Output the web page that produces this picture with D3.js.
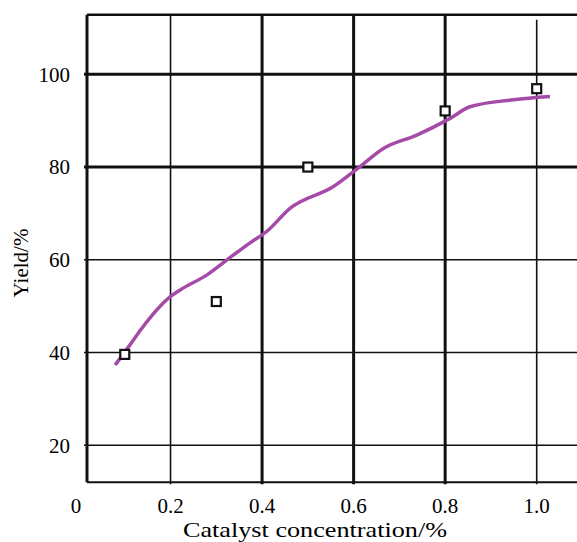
<!DOCTYPE html>
<html>
<head>
<meta charset="utf-8">
<script src="https://cdn.jsdelivr.net/npm/d3@7"></script>
<style>
  body { margin: 0; background: #fff; }
  svg { display: block; }
</style>
</head>
<body>
<div id="chart"></div>
<script>
// measured points (open squares)
const pointX = [0.1, 0.3, 0.5, 0.8, 1.0];
const pointY = [39.6, 51.0, 80.0, 92.1, 96.9];

// fitted curve
const curveX = [0.079, 0.111, 0.137, 0.199, 0.221, 0.279, 0.337, 0.373, 0.410, 0.461, 0.556, 0.614, 0.665, 0.738, 0.811, 0.854, 0.949, 1.029];
const curveY = [37.3, 41.6, 45.2, 52.0, 53.5, 56.7, 61.0, 63.6, 66.1, 71.1, 75.8, 80.1, 84.0, 86.9, 90.5, 93.0, 94.5, 95.2];

const xTicks = [0, 0.2, 0.4, 0.6, 0.8, 1.0];
const xTickLabels = ["0", "0.2", "0.4", "0.6", "0.8", "1.0"];
const yTicks = [20, 40, 60, 80, 100];
const thickX = [0.4, 0.6, 0.8];
const thickY = [80, 100];

const width = 577, height = 542;
const font = "'Liberation Serif', 'Times New Roman', serif";

const svg = d3.select("#chart").append("svg")
    .attr("width", width)
    .attr("height", height);

const x = d3.scaleLinear().domain([0, 1]).range([79, 536.7]);
const y = d3.scaleLinear().domain([20, 100]).range([445.3, 74.3]);

const plot = {left: 87, right: 577, top: 14.7, bottom: 482.3};

// horizontal grid
svg.append("g").selectAll("line")
    .data(yTicks)
  .enter().append("line")
    .attr("x1", plot.left - 3)
    .attr("x2", plot.right)
    .attr("y1", d => y(d))
    .attr("y2", d => y(d))
    .style("stroke", "#111")
    .style("stroke-width", d => thickY.includes(d) ? 3 : 1.6);

// vertical grid
svg.append("g").selectAll("line")
    .data(xTicks.filter(d => d > 0))
  .enter().append("line")
    .attr("x1", d => x(d))
    .attr("x2", d => x(d))
    .attr("y1", d => d === 1 ? plot.top + 5 : plot.top)
    .attr("y2", plot.bottom + 2)
    .style("stroke", "#111")
    .style("stroke-width", d => thickX.includes(d) ? 3 : 1.6);

// frame: left, top, bottom
svg.append("line")
    .attr("x1", plot.left).attr("x2", plot.left)
    .attr("y1", plot.top).attr("y2", plot.bottom)
    .style("stroke", "#111").style("stroke-width", 3);
svg.append("line")
    .attr("x1", plot.left).attr("x2", plot.right)
    .attr("y1", plot.top).attr("y2", plot.top)
    .style("stroke", "#111").style("stroke-width", 2.5);
svg.append("line")
    .attr("x1", plot.left).attr("x2", plot.right)
    .attr("y1", plot.bottom).attr("y2", plot.bottom)
    .style("stroke", "#111").style("stroke-width", 2);

// tick labels
svg.append("g").selectAll("text")
    .data(yTicks)
  .enter().append("text")
    .attr("x", 70)
    .attr("y", d => y(d))
    .attr("dy", "0.35em")
    .attr("text-anchor", "end")
    .style("font-family", font)
    .style("font-size", "21px")
    .text(d => d);

svg.append("g").selectAll("text")
    .data(xTicks)
  .enter().append("text")
    .attr("x", (d, i) => i === 0 ? 76 : x(d))
    .attr("y", 513)
    .attr("text-anchor", "middle")
    .style("font-family", font)
    .style("font-size", "21px")
    .text((d, i) => xTickLabels[i]);

// axis titles
svg.append("text")
    .attr("x", 183)
    .attr("y", 537)
    .attr("textLength", 264)
    .attr("lengthAdjust", "spacingAndGlyphs")
    .style("font-family", font)
    .style("font-size", "21px")
    .text("Catalyst concentration/%");

svg.append("text")
    .attr("transform", "translate(28,263) rotate(-90)")
    .attr("text-anchor", "middle")
    .style("font-family", font)
    .style("font-size", "21px")
    .text("Yield/%");

// curve
const curve = d3.line()
    .x(d => x(d[0]))
    .y(d => y(d[1]))
    .curve(d3.curveMonotoneX);

svg.append("path")
    .datum(d3.zip(curveX, curveY))
    .attr("d", curve)
    .style("fill", "none")
    .style("stroke", "#a64aa8")
    .style("stroke-width", 3.5);

// points
svg.append("g").selectAll("rect")
    .data(d3.zip(pointX, pointY))
  .enter().append("rect")
    .attr("x", d => x(d[0]) - 4.5)
    .attr("y", d => y(d[1]) - 4.5)
    .attr("width", 9)
    .attr("height", 9)
    .style("fill", "#fff")
    .style("stroke", "#111")
    .style("stroke-width", 2.2);
</script>
</body>
</html>
